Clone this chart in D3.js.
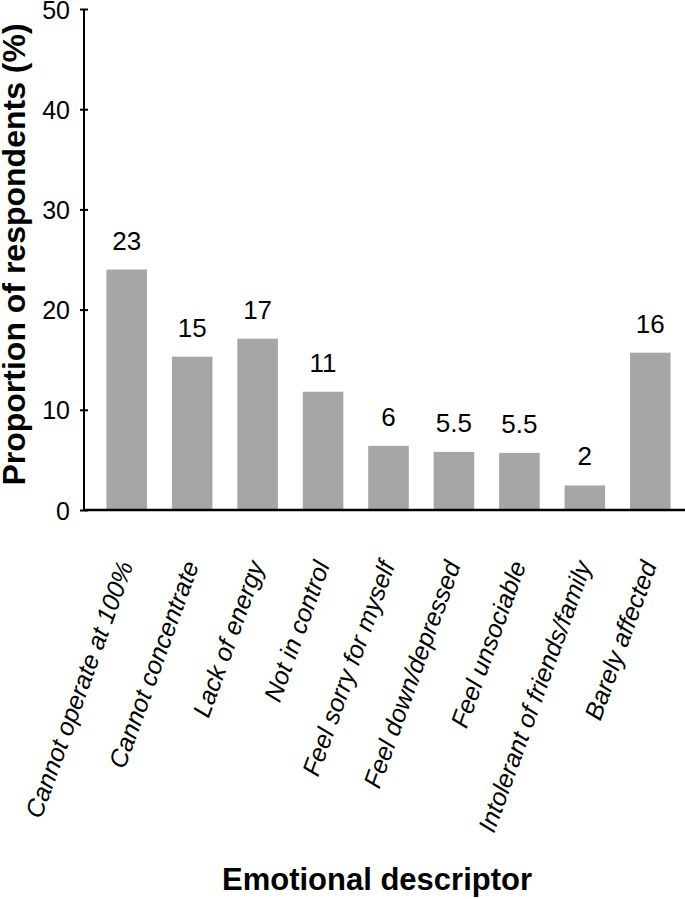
<!DOCTYPE html>
<html>
<head>
<meta charset="utf-8">
<script src="https://cdn.jsdelivr.net/npm/d3@7"></script>
<style>
  body { margin: 0; background: #fff; }
  text { font-family: "Liberation Sans", Arial, sans-serif; fill: #000; }
</style>
</head>
<body>
<script>
// chart data
const categories = ["Cannot operate at 100%", "Cannot concentrate", "Lack of energy", "Not in control",
                    "Feel sorry for myself", "Feel down/depressed", "Feel unsociable",
                    "Intolerant of friends/family", "Barely affected"];
const barValues = [24.0, 15.3, 17.1, 11.8, 6.4, 5.8, 5.7, 2.45, 15.7];
const valueLabels = ["23", "15", "17", "11", "6", "5.5", "5.5", "2", "16"];
const yTicks = [0, 10, 20, 30, 40, 50];

const w = 685;
const h = 899;
const axisX = 84;
const baseY = 510;

const svg = d3.select("body")
              .append("svg")
              .attr("width", w)
              .attr("height", h);

const yScale = d3.scaleLinear()
                 .domain([0, 50])
                 .range([baseY, 9]);

const xScale = d3.scaleBand()
                 .domain(categories)
                 .range([94, 683])
                 .paddingInner(0.38)
                 .paddingOuter(0.19);

// bars
svg.selectAll("rect.bar")
   .data(barValues)
   .enter()
   .append("rect")
   .attr("class", "bar")
   .attr("x", (d, i) => xScale(categories[i]))
   .attr("y", (d) => yScale(d))
   .attr("width", xScale.bandwidth())
   .attr("height", (d) => baseY - yScale(d))
   .attr("fill", "#a6a6a6");

// value labels above bars
svg.selectAll("text.val")
   .data(barValues)
   .enter()
   .append("text")
   .attr("class", "val")
   .attr("x", (d, i) => xScale(categories[i]) + xScale.bandwidth() / 2)
   .attr("y", (d) => yScale(d) - 20)
   .attr("text-anchor", "middle")
   .style("font-size", "26px")
   .text((d, i) => valueLabels[i]);

// y axis
const yAxis = d3.axisLeft(yScale).tickValues(yTicks).tickSize(4).tickPadding(10);
const gy = svg.append("g")
              .attr("transform", "translate(" + axisX + ",0)")
              .call(yAxis);
gy.select(".domain").attr("d", "M0," + yScale(50) + "V" + baseY).attr("stroke", "#000").attr("stroke-width", 2);
gy.selectAll(".tick line").attr("x1", -4).attr("x2", 4).attr("stroke-width", 2);
gy.selectAll(".tick text")
  .style("font-size", "25px")
  .style("font-family", "'Liberation Sans', Arial, sans-serif")
  .attr("x", -14)
  .attr("dy", "0.36em");

// x axis
const xAxis = d3.axisBottom(xScale).tickSize(0);
const gx = svg.append("g")
              .attr("transform", "translate(0," + baseY + ")")
              .call(xAxis);
gx.select(".domain").attr("d", "M" + axisX + ",0H" + w).attr("stroke", "#000").attr("stroke-width", 2.5);
gx.selectAll(".tick text")
  .style("font-size", "25px")
  .style("font-style", "italic")
  .style("font-family", "'Liberation Sans', Arial, sans-serif")
  .attr("text-anchor", "end")
  .attr("x", 0)
  .attr("y", 0)
  .attr("dy", 0)
  .attr("transform", "translate(7,55) rotate(-70)");

// axis titles
svg.append("text")
   .attr("transform", "translate(25," + (yScale(25) - 5) + ") rotate(-90)")
   .attr("text-anchor", "middle")
   .style("font-size", "32px")
   .style("font-weight", "bold")
   .text("Proportion of respondents (%)");

svg.append("text")
   .attr("x", 377)
   .attr("y", 890)
   .attr("text-anchor", "middle")
   .style("font-size", "31px")
   .style("font-weight", "bold")
   .text("Emotional descriptor");
</script>
</body>
</html>
